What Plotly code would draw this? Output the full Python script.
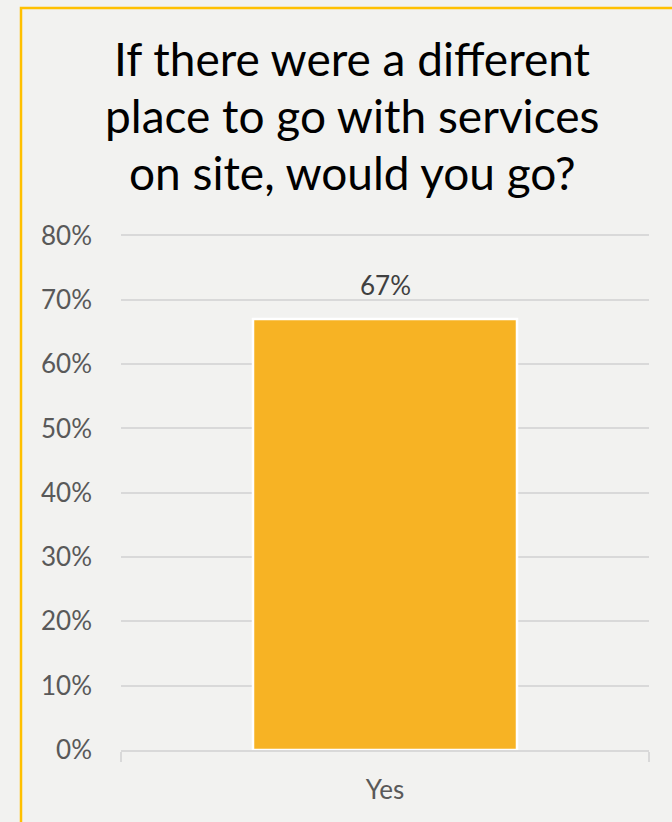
import plotly.graph_objects as go

# Survey result
categories = ["Yes"]
shares = [0.67]
value_labels = ["67%"]
title_lines = ["If there were a different", "place to go with services", "on site, would you go?"]
y_ticks = [0, 0.1, 0.2, 0.3, 0.4, 0.5, 0.6, 0.7, 0.8]
y_tick_labels = ["0%", "10%", "20%", "30%", "40%", "50%", "60%", "70%", "80%"]

W, H = 672, 822
Y_MAX = 0.81
PX_PER_UNIT = 643.75
ML, MR, MB = 121, 23, 72
MT = round(H - MB - Y_MAX * PX_PER_UNIT)
PW, PH = W - ML - MR, H - MT - MB

FONT = "Lato"
GRID = "#d9d9d9"
BG = "#f2f2f0"

fig = go.Figure(
    go.Bar(
        x=categories,
        y=shares,
        width=0.5,
        marker=dict(color="#f7b324", line=dict(color="white", width=2.5)),
        hoverinfo="skip",
    )
)

def px_to_paper_x(px):
    return (px - ML) / PW

def px_to_paper_y(py):
    return (H - MB - py) / PH

annotations = []
line_y = [58, 116, 172]
for txt, yy in zip(title_lines, line_y):
    annotations.append(dict(
        text=txt, xref="paper", yref="paper",
        x=px_to_paper_x(352), y=px_to_paper_y(yy),
        xanchor="center", yanchor="middle", showarrow=False,
        font=dict(family=FONT, size=46, color="#000000"),
    ))

# value label sits above the bar top
for cat, val, lab in zip(categories, shares, value_labels):
    annotations.append(dict(
        text=lab, x=cat, y=val, xref="x", yref="y",
        xanchor="center", yanchor="bottom", yshift=16, showarrow=False,
        font=dict(family=FONT, size=26, color="#404040"),
    ))

fig.update_layout(
    width=W, height=H,
    margin=dict(l=ML, r=MR, t=MT, b=MB, pad=0),
    paper_bgcolor=BG, plot_bgcolor=BG,
    showlegend=False,
    annotations=annotations,
    shapes=[dict(
        type="rect", xref="paper", yref="paper",
        x0=px_to_paper_x(21), x1=px_to_paper_x(W + 40),
        y0=px_to_paper_y(H + 40), y1=px_to_paper_y(8),
        line=dict(color="#ffc000", width=2.5), fillcolor="rgba(0,0,0,0)",
        layer="above",
    )],
    xaxis=dict(
        showline=True, linecolor=GRID, linewidth=1.5,
        ticks="outside", tickson="boundaries", ticklen=10, tickcolor=GRID, tickwidth=1.5,
        ticklabelstandoff=16,
        tickfont=dict(family=FONT, size=26, color="#595959"),
        showgrid=False, fixedrange=True,
    ),
    yaxis=dict(
        range=[0, Y_MAX], tickvals=y_ticks, ticktext=y_tick_labels,
        showgrid=True, gridcolor=GRID, gridwidth=1.5,
        zeroline=False, showline=False, ticks="",
        ticklabelstandoff=28,
        tickfont=dict(family=FONT, size=26, color="#595959"),
        fixedrange=True,
    ),
)

fig.write_html("out.html")
